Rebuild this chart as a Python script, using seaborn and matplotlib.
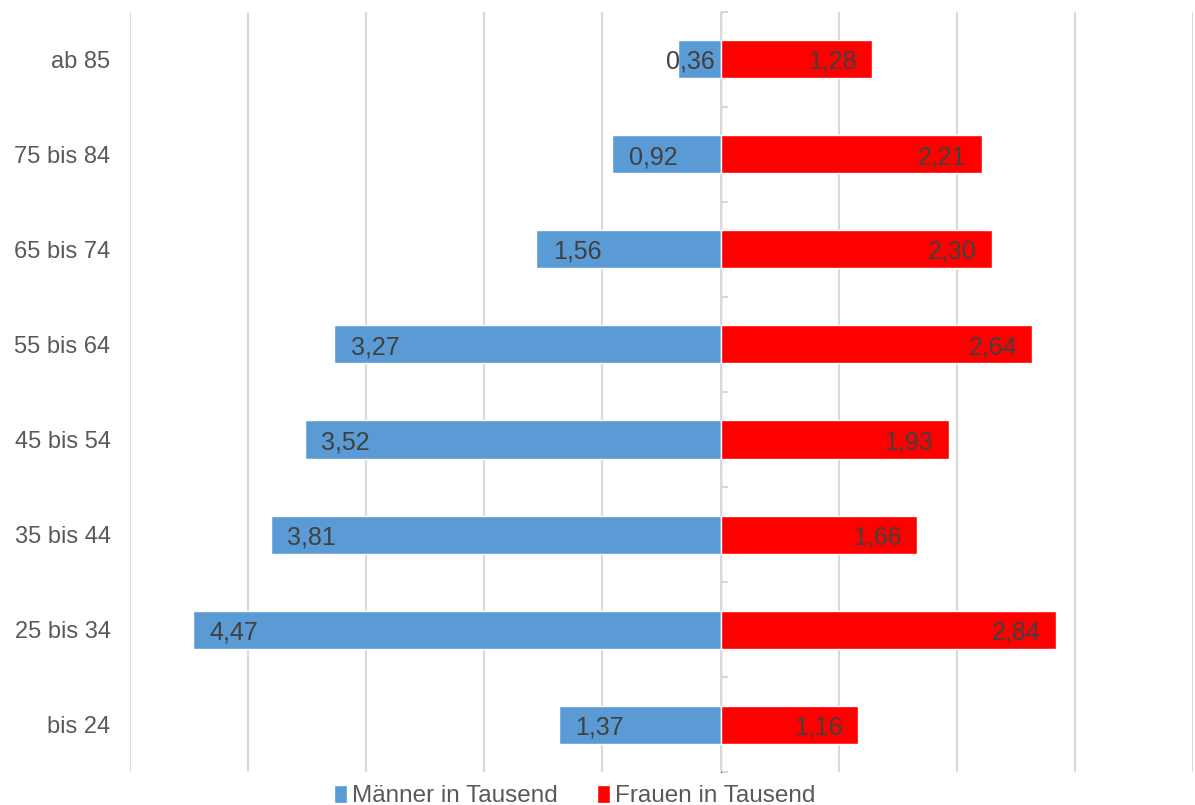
import pandas as pd
import seaborn as sns
import matplotlib.pyplot as plt
from matplotlib.patches import Patch

# age groups, top to bottom
age_groups = ['ab 85', '75 bis 84', '65 bis 74', '55 bis 64',
              '45 bis 54', '35 bis 44', '25 bis 34', 'bis 24']
maenner = [0.36, 0.92, 1.56, 3.27, 3.52, 3.81, 4.47, 1.37]
frauen = [1.28, 2.21, 2.30, 2.64, 1.93, 1.66, 2.84, 1.16]

blue = '#5B9BD5'
red = '#FF0000'
grid_c = '#D9D9D9'
txt_c = '#404040'

df = pd.DataFrame({'age': age_groups,
                   'maenner': [-v for v in maenner],
                   'frauen': frauen})

sns.set_style('white')
plt.rcParams['font.family'] = ['Liberation Sans', 'DejaVu Sans']

fig = plt.figure(figsize=(11.95, 8.05), dpi=100)
ax = fig.add_axes([130 / 1195, 33 / 805, 1063 / 1195, 760 / 805])

sns.barplot(data=df, y='age', x='maenner', order=age_groups, color=blue,
            orient='h', width=0.4, saturation=1, ax=ax, zorder=3)
sns.barplot(data=df, y='age', x='frauen', order=age_groups, color=red,
            orient='h', width=0.4, saturation=1, ax=ax, zorder=3)

ax.set_xlim(-5, 4)
ax.set_ylim(len(age_groups) - 0.5, -0.5)
ax.set_xticks(range(-5, 5))
ax.set_xticklabels([])
ax.tick_params(axis='x', length=0)
ax.grid(axis='x', color=grid_c, linewidth=1.5, zorder=0)
ax.grid(axis='y', visible=False)
for s in ax.spines.values():
    s.set_visible(False)
ax.set_xlabel('')
ax.set_ylabel('')
ax.tick_params(axis='y', length=0, pad=14, labelsize=17, labelcolor='#595959')

# category axis at zero with small ticks between groups
sec = ax.secondary_yaxis(5 / 9)
sec.set_yticks([i + 0.5 for i in range(-1, len(age_groups))])
sec.set_yticklabels([])
sec.tick_params(length=5, width=1.5, color=grid_c)
sec.spines['left'].set_color(grid_c)
sec.spines['left'].set_linewidth(1.5)

def fmt(v):
    return f'{v:.2f}'.replace('.', ',')

lab_size = 18
for i, v in enumerate(maenner):
    if v < 0.6:
        ax.annotate(fmt(v), (0, i), xytext=(-4, 0), textcoords='offset points',
                    ha='right', va='center_baseline', fontsize=lab_size,
                    color=txt_c, zorder=5)
    else:
        ax.annotate(fmt(v), (-v, i), xytext=(12, 0), textcoords='offset points',
                    ha='left', va='center_baseline', fontsize=lab_size,
                    color=txt_c, zorder=5)
for i, v in enumerate(frauen):
    ax.annotate(fmt(v), (v, i), xytext=(-11, 0), textcoords='offset points',
                ha='right', va='center_baseline', fontsize=lab_size,
                color=txt_c, zorder=5)

handles = [Patch(facecolor=blue, label='Männer in Tausend'),
           Patch(facecolor=red, label='Frauen in Tausend')]
fig.legend(handles=handles, loc='lower center', bbox_to_anchor=(0.481, -0.03),
           ncol=2, frameon=False, fontsize=17.5, handlelength=0.55, handleheight=0.75,
           handletextpad=0.2, columnspacing=1.6, labelcolor='#595959')

fig.savefig('out.png', dpi=100)
